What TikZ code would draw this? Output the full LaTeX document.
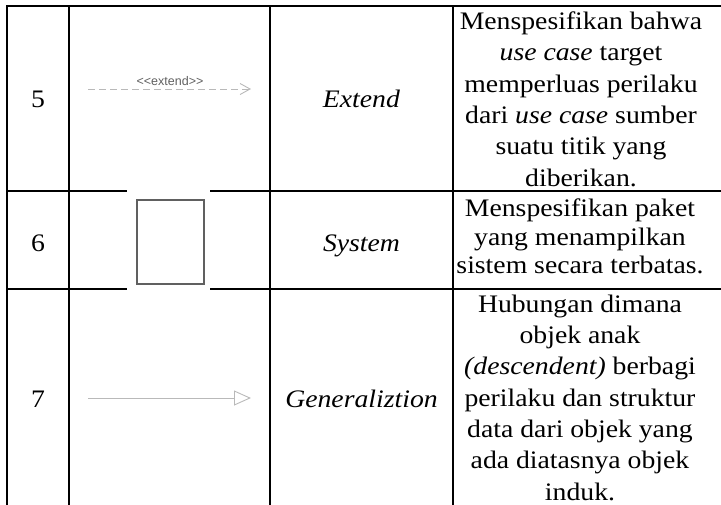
\documentclass[tikz,border=0pt]{standalone}
\usepackage{fontspec}
\setmainfont[FakeStretch=1.1]{Liberation Serif}
\newfontfamily\umlfont{Liberation Sans}
\usetikzlibrary{arrows.meta,calc,positioning}

\begin{document}
\begin{tikzpicture}[
    x=1pt, y=-1pt,
    grid/.style={line width=2.2pt,line cap=rect},
    cell/.style={inner sep=0pt,align=center,anchor=base,font=\fontsize{25.2}{31.3}\selectfont},
    uml/.style={draw=gray!55,line width=0.9pt}
]
    \useasboundingbox (0,0) rectangle (721,504);
    % table rules
    \draw[grid] (7,6) -- (735,6);
    \draw[grid] (7,191) -- (735,191);
    \draw[grid] (7,289) -- (735,289);
    \foreach \x in {7,69,270,453}
        \draw[grid] (\x,6) -- (\x,520);
    \fill[white] (127,186) rectangle (210,294);

    % row 5 (base = last line)
    \node[cell] (n5) at (38,107.5) {5};
    \coordinate (extA) at (88,89);
    \coordinate (extB) at (251,89);
    \draw[uml,dash pattern=on 7pt off 4pt,-{Straight Barb[length=10pt,width=11pt]}] (extA) -- (extB);
    \node[font=\umlfont\fontsize{12.5}{14}\selectfont,text=gray!75!black,inner sep=0pt] (extlbl) at (170,81) {<{}<extend>{}>};
    \node[cell] (t5) at (361.5,107.5) {\textit{Extend}};
    \node[cell] (d5) at (581,186) {Menspesifikan bahwa\\ \textit{use case} target\\ memperluas perilaku\\ dari \textit{use case} sumber\\ suatu titik yang\\ diberikan.};

    % row 6
    \node[cell] (n6) at (38,251.5) {6};
    \node[draw=gray!75!black,line width=1.1pt,minimum width=67pt,minimum height=84pt,inner sep=0pt] (sysbox) at (170.5,242) {};
    \node[cell] (t6) at (361.5,251.5) {\textit{System}};
    \node[cell,font=\fontsize{25.2}{28.3}\selectfont] (d6) at (580,273.3) {Menspesifikan paket\\ yang menampilkan\\ sistem secara terbatas.};

    % row 7
    \node[cell] (n7) at (38,407.5) {7};
    \coordinate (genA) at (88,398);
    \coordinate (genB) at (251,398);
    \draw[uml,-{Triangle[open,length=17pt,width=15pt]}] (genA) -- (genB);
    \node[cell] (t7) at (361.5,407.5) {\textit{Generaliztion}};
    \node[cell,font=\fontsize{25.2}{31.3}\selectfont] (d7) at (580,500) {Hubungan dimana\\ objek anak\\ \textit{(descendent)} berbagi\\ perilaku dan struktur\\ data dari objek yang\\ ada diatasnya objek\\ induk.};
\end{tikzpicture}
\end{document}
